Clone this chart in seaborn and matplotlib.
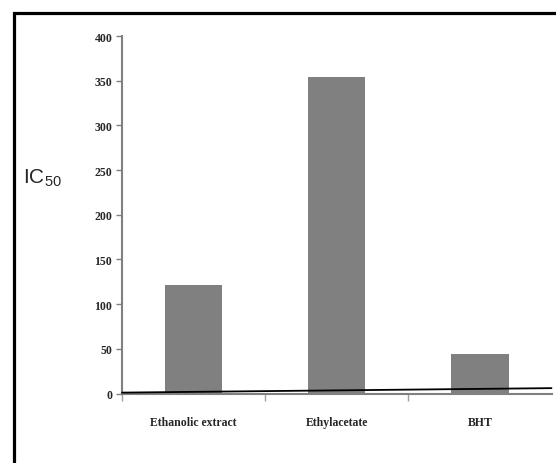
import matplotlib
matplotlib.use("Agg")
import matplotlib.pyplot as plt
import seaborn as sns
import pandas as pd
from matplotlib.patches import Rectangle

categories = ["Ethanolic extract", "Ethylacetate", "BHT"]
ic50_values = [121, 354, 44]
yticks = [0, 50, 100, 150, 200, 250, 300, 350, 400]
trend_x = [-0.5, 2.5]
trend_y = [1.0, 6.0]

sns.set_theme(style="white")
plt.rcParams['font.family'] = ['Liberation Serif', 'DejaVu Serif']
plt.rcParams['mathtext.fontset'] = 'custom'
plt.rcParams['mathtext.rm'] = 'Liberation Sans'
plt.rcParams['mathtext.it'] = 'Liberation Sans'
plt.rcParams['mathtext.bf'] = 'Liberation Sans:bold'

df = pd.DataFrame({"cat": categories, "val": ic50_values})

fig = plt.figure(figsize=(5.56, 4.64), dpi=100)
ax = fig.add_axes([122/556, 1-394.5/464, (551.5-122)/556, (394.5-37)/464])

sns.barplot(data=df, x="cat", y="val", color="#808080", width=0.4,
            saturation=1, ax=ax, edgecolor="none")
ax.plot(trend_x, trend_y, color="black", lw=1.3, clip_on=False, zorder=5)

ax.set_xlim(-0.5, 2.5)
ax.set_ylim(0, 400)
ax.set_yticks(yticks)
ax.set_yticklabels([str(v) for v in yticks], fontsize=8.5, fontweight="bold")
ax.set_xticks(range(len(categories)))
ax.set_xticklabels(categories, fontsize=8.5, fontweight="bold")
ax.set_xticks([-0.5, 0.5, 1.5], minor=True)
ax.tick_params(axis="x", which="major", length=0, pad=16)
ax.tick_params(axis="x", which="minor", length=5, width=1, color="#a0a0a0", direction="out", bottom=True)
ax.tick_params(axis="y", which="major", length=4, width=1, color="#808080", direction="out", left=True, pad=3)
ax.set_xlabel("")
ax.set_ylabel("")
for s in ["top", "right"]:
    ax.spines[s].set_visible(False)
for s in ["left", "bottom"]:
    ax.spines[s].set_color("#808080")
    ax.spines[s].set_linewidth(1.5)

fig.text(23/556, 1-178/464, r"$\mathrm{IC}_{\mathrm{50}}$", fontsize=15,
         ha="left", va="center")

fig.patches.append(Rectangle((13.5/556, -0.5), 2.0, 1-13.5/464+0.5,
                             transform=fig.transFigure, fill=False,
                             edgecolor="black", linewidth=2.3, zorder=10))

fig.savefig("out.png", dpi=100)
